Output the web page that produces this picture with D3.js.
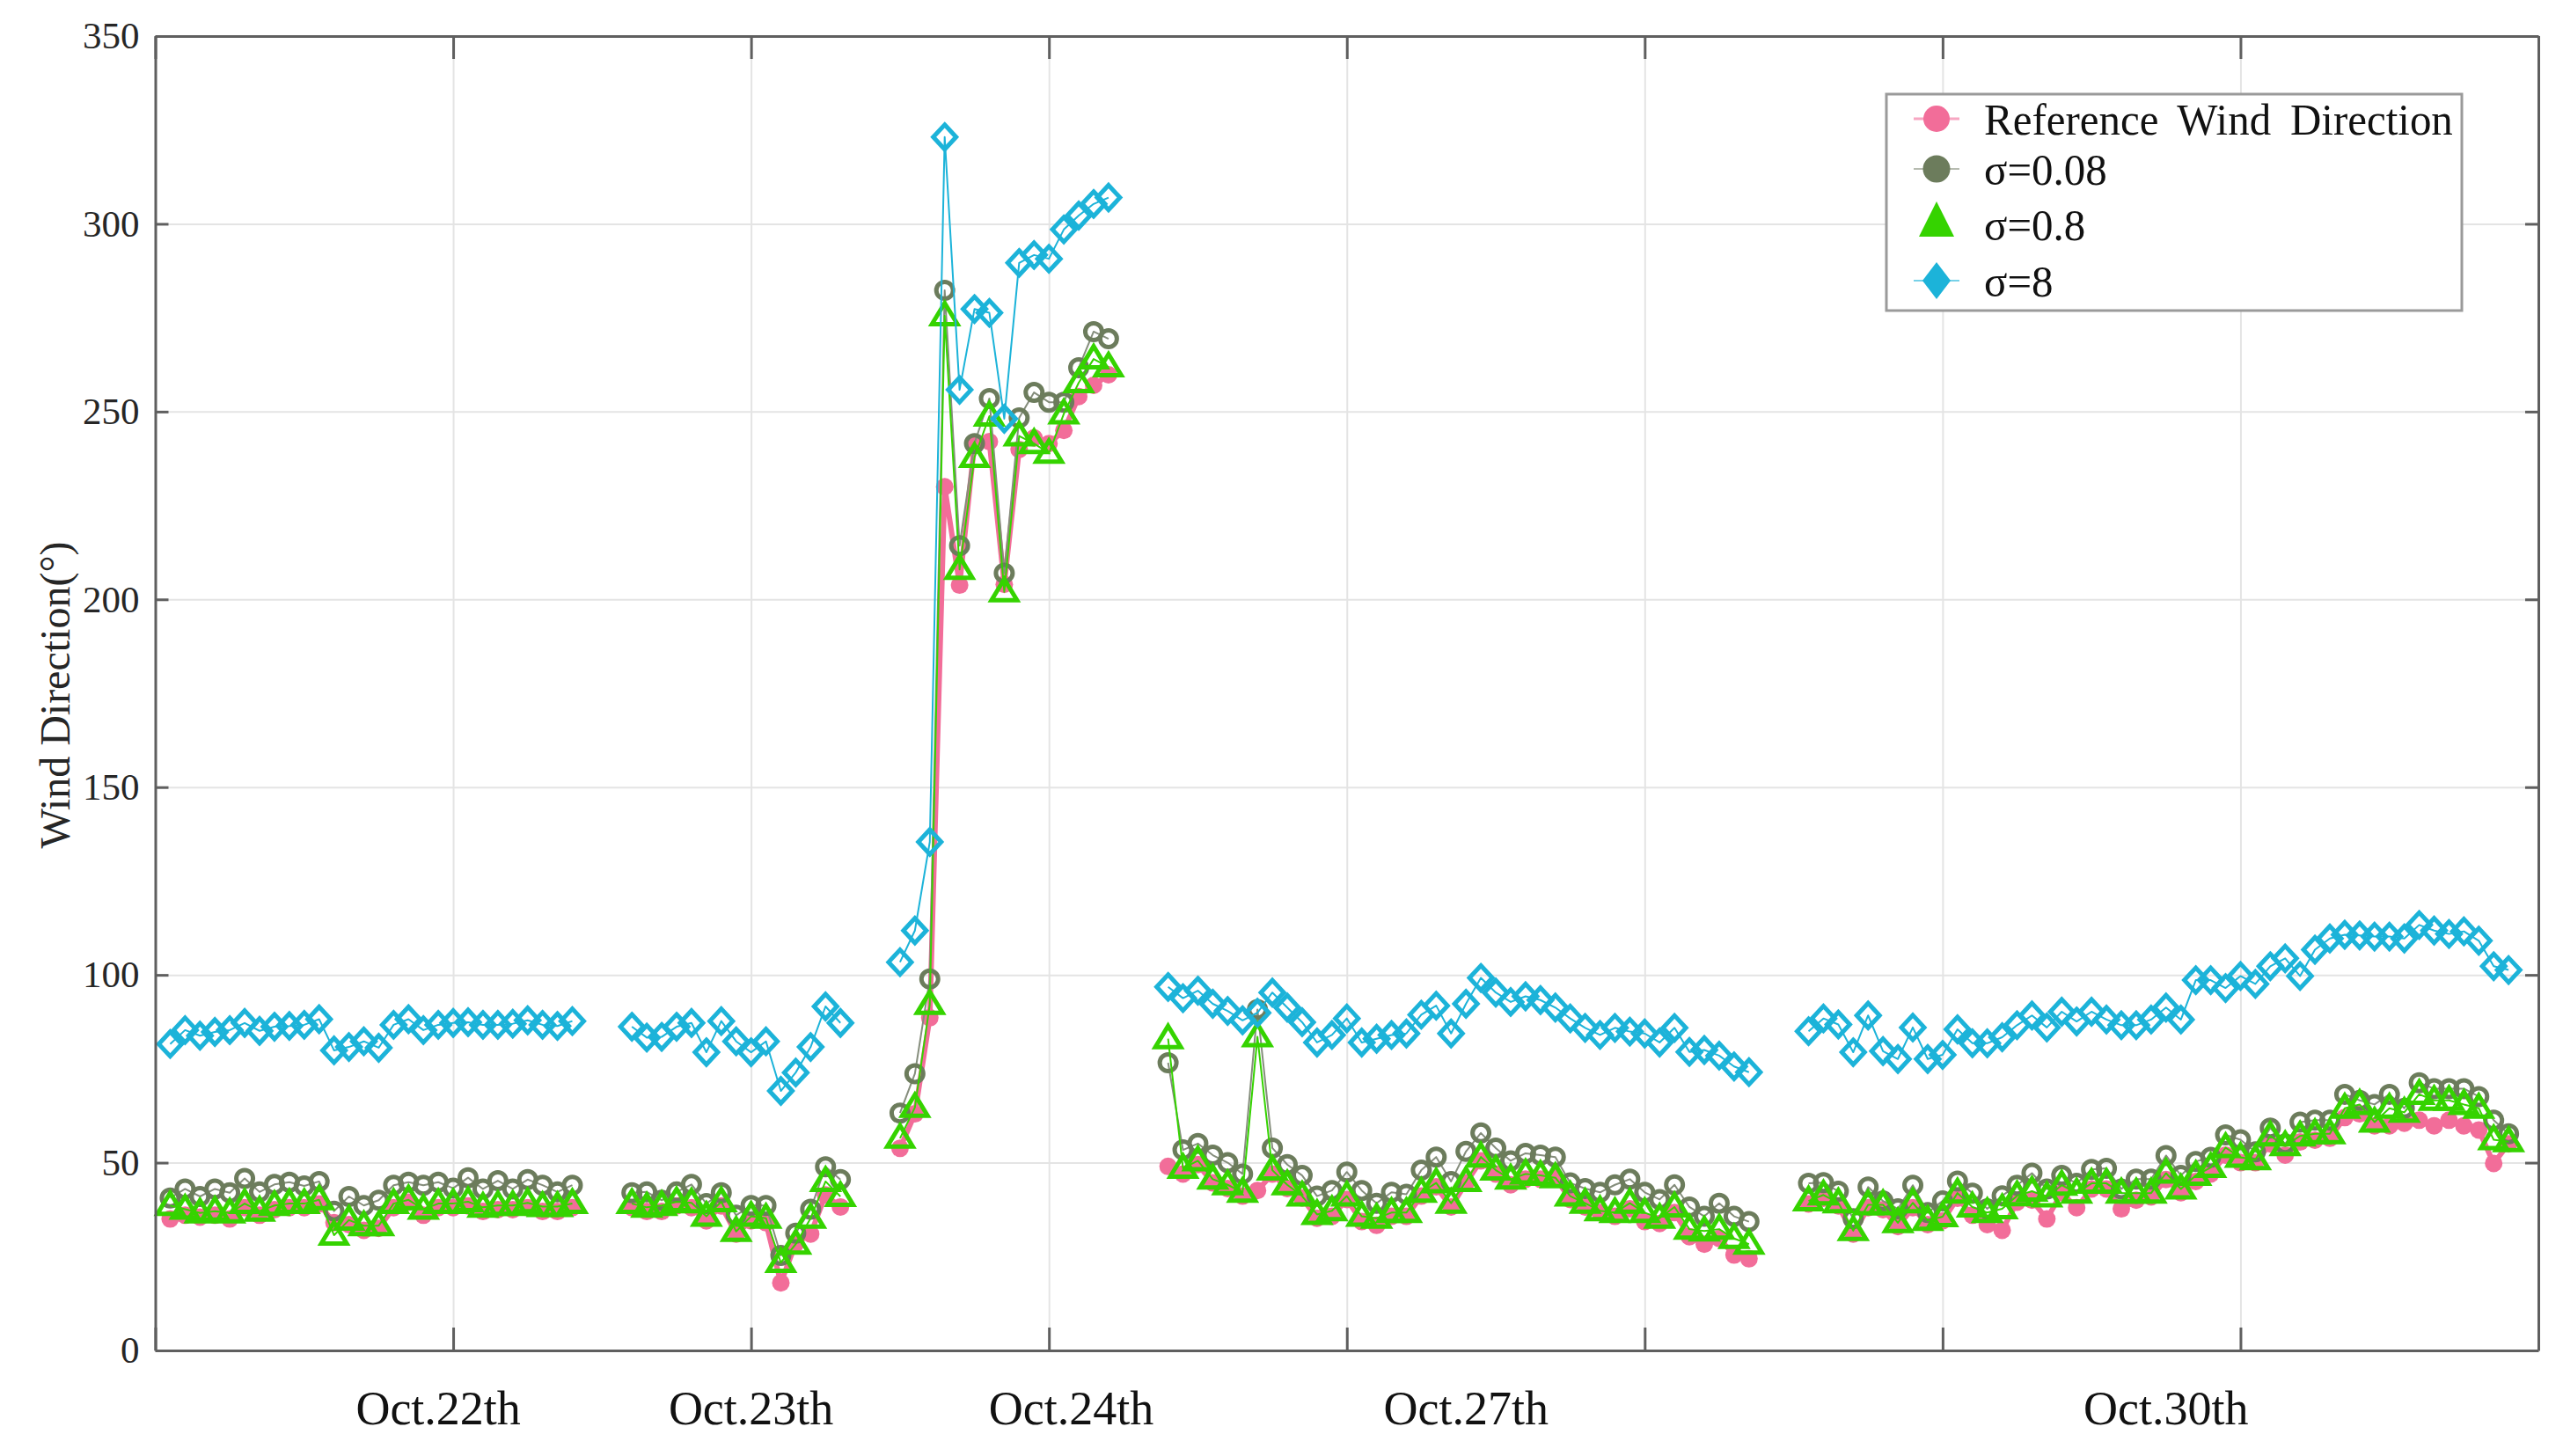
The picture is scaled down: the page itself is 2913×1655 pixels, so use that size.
<!DOCTYPE html>
<html>
<head>
<meta charset="utf-8">
<script src="https://cdn.jsdelivr.net/npm/d3@7/dist/d3.min.js"></script>
<style>
  html, body { margin: 0; padding: 0; background: #fff; }
  svg { display: block; font-family: "Liberation Serif", "Times New Roman", serif; }
</style>
</head>
<body>
<svg id="chart" width="2913" height="1655"></svg>
<script>
// hourly samples, split into the days that were measured
var segStart = [1, 32, 50, 68, 111];
var segLength = [28, 15, 15, 40, 48];

var dayLabels = ['Oct.22th', 'Oct.23th', 'Oct.24th', 'Oct.27th', 'Oct.30th'];
var dayLabelPos = [19, 40, 61.5, 88, 135];

var xTicks = [0, 20, 40, 60, 80, 100, 120, 140, 160];
var yTicks = [0, 50, 100, 150, 200, 250, 300, 350];

var refDir = [
    35, 36, 35.5, 36, 35, 38, 36, 37.5, 38, 38, 39, 34, 33.5, 32, 32.5, 38, 39.5, 36, 38, 38, 38.5, 37, 37.5, 37.5, 38, 37, 37, 38,
    38, 37, 37, 38.5, 38, 34.5, 38.5, 31, 34.5, 34, 18, 28.5, 31, 41.4, 38.2,
    53.8, 63, 88.6, 230, 203.8, 241.5, 242, 204, 239.9, 243, 241.5, 245, 254, 257, 259.8,
    49, 47, 49.5, 44.6, 43.1, 41.1, 42.6, 47, 43.1, 40.6, 35.2, 35.7, 40.2, 34.3, 33.3, 35.7, 35.7, 41.1, 43.6, 38.2,
    44.6, 50.5, 47, 44.1, 45.6, 45.6, 46, 40.2, 38.2, 36.7, 35.7, 37.7, 34.3, 33.8, 36.7, 30.3, 28.3, 29.8, 25.4, 24.4,
    39, 40.5, 38.5, 31, 38, 37.5, 33, 38, 33.5, 34.5, 40.5, 36, 33.5, 32, 39.5, 40, 35, 42, 38, 43, 43, 37.7, 40, 40.9,
    45.5, 42, 45, 47, 52, 50, 50, 55, 52, 55.5, 56, 56.5, 62, 63, 59.8, 59.8, 60.5, 61.3, 59.8, 61.3, 59.8, 58.7, 49.8, 55
];

var sigma008 = [
    40.6, 43, 41, 43, 42, 45.8, 42.2, 44.2, 44.8, 43.8, 45, 37.1, 41, 38.6, 40, 44, 44.8, 44, 44.8, 43.2, 46, 43, 45.2, 43, 45.5, 44, 42.2, 44,
    42, 42.2, 40, 42.2, 44.2, 39.1, 42, 36, 38.6, 38.6, 25.3, 31.2, 37.6, 48.9, 45.5,
    63.2, 73.7, 98.9, 282.3, 214.3, 241.5, 253.5, 207, 248.3, 255.1, 252.5, 252.5, 261.7, 271.3, 269.4,
    76.6, 53.4, 55.1, 52, 50, 47, 90.8, 53.9, 49.5, 46.6, 41.1, 42.6, 47.5, 42.6, 39.2, 42.1, 41.6, 48, 51.5, 45,
    53, 57.9, 53.9, 50.5, 52.5, 52, 51.5, 44.6, 43.1, 42.1, 44.1, 45.6, 42.1, 40.2, 44.1, 38.2, 35.7, 39.2, 35.7, 34.3,
    44.5, 44.7, 42.4, 35.1, 43.5, 39.8, 37.7, 44, 36.7, 39.8, 45.1, 41.9, 37.7, 41.2, 44, 47.2, 43, 46.6, 44.5, 48.2, 48.5, 43, 45.6, 45.6,
    51.9, 46.6, 50.3, 51.4, 57.4, 56.1, 52.9, 59.2, 55, 60.8, 61.3, 61.3, 68.2, 66.6, 65.5, 68.2, 64.5, 71.3, 69.7, 69.7, 69.7, 67.6, 61.3, 57.7
];

var sigma08 = [
    38.6, 37.6, 36.6, 37.1, 36.6, 39.1, 37.1, 38.6, 39.1, 39.1, 40.1, 30.7, 34.7, 33.2, 33.2, 39.1, 40.1, 37.6, 39.1, 39.1, 39.6, 38.1, 38.6, 38.6, 39.3, 38.3, 38.3, 39.1,
    39.1, 38.1, 38.6, 39.6, 39.3, 35.7, 39.6, 31.7, 35.7, 35.2, 23.4, 28.3, 35.2, 45, 41,
    56.5, 64.7, 92.1, 275.5, 208, 237.8, 248.8, 202, 243.5, 241.5, 238.9, 249.4, 257.7, 264, 261.9,
    83, 48.5, 50.5, 45.6, 44.1, 42.1, 83.5, 48, 44.1, 41.1, 36.2, 37.2, 41.1, 35.7, 35.2, 36.7, 36.7, 42.1, 44.6, 39.2,
    45, 51.5, 48, 45.6, 47, 46.6, 46, 41.1, 39.2, 37.2, 36.7, 39.2, 36.7, 35.2, 38.2, 32.3, 31.8, 32.3, 29.8, 28.3,
    39.8, 41.4, 39.3, 31.9, 38.8, 38.8, 34, 39.3, 34.6, 35.6, 41.9, 38.2, 36.7, 37.7, 41.2, 42.4, 40.9, 44, 41.9, 44.5, 44.5, 41.9, 41.9, 41.9,
    47.2, 43, 46.6, 48.7, 54, 51.4, 50.8, 57.1, 54.5, 57.1, 57.7, 57.7, 64.5, 65.5, 60.8, 64.5, 63.4, 68.2, 66.6, 66.6, 65.5, 64.5, 56.1, 55.6
];

var sigma8 = [
    81.6, 85.3, 83.8, 84.8, 85.3, 87.2, 85.1, 86.2, 86.4, 86.7, 88.2, 79.9, 80.8, 82.3, 80.6, 86.7, 88.2, 85.3, 86.7, 87.2, 87.4, 86.7, 86.7, 87, 87.9, 86.7, 86.4, 87.7,
    86.2, 83.3, 83.5, 86.2, 87.2, 79.4, 87.7, 82.3, 79.4, 82.3, 69.1, 74, 80.8, 91.6, 87.2,
    103.4, 111.8, 135.4, 323.1, 255.8, 277.3, 276.3, 248.1, 289.6, 291.7, 290.7, 298.5, 302.2, 305.3, 307,
    96.8, 93.8, 95.8, 92.3, 90.4, 87.9, 89.9, 95.3, 91.3, 87.4, 82, 84, 88.4, 82, 83, 84, 84.4, 89.4, 91.8, 84.4,
    92.3, 99.2, 95.3, 92.8, 94.3, 93.3, 91.3, 88.4, 85.9, 84, 85.9, 84.9, 84.4, 82, 85.9, 79.5, 80, 78.5, 75.6, 74.1,
    85, 88.4, 86.8, 79.4, 89.2, 79.7, 77.6, 86, 77.6, 78.7, 85.5, 81.8, 81.8, 83.4, 86.6, 89.2, 86, 90.2, 87.6, 90.2, 88.1, 86.6, 86.6, 88.1,
    91.3, 88.1, 98.6, 98.6, 96.5, 99.7, 97.6, 102.3, 104.4, 99.7, 106.7, 109.7, 110.7, 110.5, 110.2, 110.2, 109.7, 113.3, 111.8, 110.9, 111.6, 109.1, 102.3, 101.3
];

var seriesNames = ['Reference Wind Direction', '\u03c3=0.08', '\u03c3=0.8', '\u03c3=8'];

// marker paths (centered on 0,0)
function circlePath(r) {
    return 'M' + (-r) + ',0A' + r + ',' + r + ' 0 1,0 ' + r + ',0A' + r + ',' + r + ' 0 1,0 ' + (-r) + ',0Z';
}
function trianglePath(w, top, bottom) {
    return 'M0,' + (-top) + 'L' + w + ',' + bottom + 'L' + (-w) + ',' + bottom + 'Z';
}
function diamondPath(w, h) {
    return 'M0,' + (-h) + 'L' + w + ',0L0,' + h + 'L' + (-w) + ',0Z';
}

var series = [
    { name: seriesNames[0], values: refDir, color: '#f26d99', lineColor: '#f26d99', lineWidth: 6,
      marker: circlePath(10), fill: '#f26d99', stroke: 'none', legendMarker: circlePath(15), legendLine: 3 },
    { name: seriesNames[1], values: sigma008, color: '#6c7c5c', lineColor: '#858d7c', lineWidth: 2,
      marker: circlePath(9.5), fill: 'none', stroke: '#6c7c5c', legendMarker: circlePath(15.5), legendLine: 2 },
    { name: seriesNames[2], values: sigma08, color: '#35d300', lineColor: '#35d300', lineWidth: 2,
      marker: trianglePath(14.5, 14.5, 9.5), fill: 'none', stroke: '#35d300', legendMarker: trianglePath(20, 26, 14), legendLine: 0 },
    { name: seriesNames[3], values: sigma8, color: '#1cb3d9', lineColor: '#1cb3d9', lineWidth: 2,
      marker: diamondPath(13, 14), fill: 'none', stroke: '#1cb3d9', legendMarker: diamondPath(16, 21), legendLine: 2 }
];

var svg = d3.select('#chart');
var W = 2913, H = 1655;
var margin = { top: 41, right: 28, bottom: 120, left: 176.5 };
var width = W - margin.left - margin.right,
    height = H - margin.top - margin.bottom;

svg.append('rect').attr('width', W).attr('height', H).attr('fill', '#fff');

var x = d3.scaleLinear().domain([0, 160]).range([0, width]);
var y = d3.scaleLinear().domain([0, 350]).range([height, 0]);

var g = svg.append('g').attr('transform', 'translate(' + margin.left + ',' + margin.top + ')');

// grid
g.append('g').attr('class', 'grid-y')
    .call(d3.axisLeft(y).tickValues(yTicks).tickSize(-width).tickFormat(''))
    .call(function(a) { a.select('.domain').remove(); })
    .selectAll('line').attr('stroke', '#e4e4e4').attr('stroke-width', 2);

g.append('g').attr('class', 'grid-x')
    .attr('transform', 'translate(0,' + height + ')')
    .call(d3.axisBottom(x).tickValues(xTicks).tickSize(-height).tickFormat(''))
    .call(function(a) { a.select('.domain').remove(); })
    .selectAll('line').attr('stroke', '#e4e4e4').attr('stroke-width', 2);

// data
var line = d3.line()
    .x(function(d) { return x(d.x); })
    .y(function(d) { return y(d.v); });

series.forEach(function(s, si) {
    var sg = g.append('g').attr('class', 'series-' + si);
    var offset = 0;
    for (var k = 0; k < segStart.length; ++k) {
        var pts = d3.range(segLength[k]).map(function(j) {
            return { x: segStart[k] + j, v: s.values[offset + j] };
        });
        offset += segLength[k];

        sg.append('path')
            .datum(pts)
            .attr('d', line)
            .attr('fill', 'none')
            .attr('stroke', s.lineColor)
            .attr('stroke-width', s.lineWidth)
            .attr('stroke-linejoin', 'round');

        sg.selectAll('.mk-' + k)
            .data(pts)
            .enter()
            .append('path')
            .attr('class', 'mk-' + k)
            .attr('d', s.marker)
            .attr('transform', function(d) { return 'translate(' + x(d.x) + ',' + y(d.v) + ')'; })
            .attr('fill', s.fill)
            .attr('stroke', s.stroke)
            .attr('stroke-width', 5);
    }
});

// axes box with inward ticks
var axisColor = '#5f5f5f';

var yLeft = g.append('g')
    .call(d3.axisLeft(y).tickValues(yTicks).tickSizeInner(-15).tickSizeOuter(0).tickPadding(18));
var yRight = g.append('g').attr('transform', 'translate(' + width + ',0)')
    .call(d3.axisRight(y).tickValues(yTicks).tickSizeInner(-15).tickSizeOuter(0).tickFormat(''));
var xBottom = g.append('g').attr('transform', 'translate(0,' + height + ')')
    .call(d3.axisBottom(x).tickValues(xTicks).tickSizeInner(-26).tickSizeOuter(0).tickFormat(''));
var xTop = g.append('g')
    .call(d3.axisTop(x).tickValues(xTicks).tickSizeInner(-26).tickSizeOuter(0).tickFormat(''));

[yLeft, yRight, xBottom, xTop].forEach(function(a) {
    a.select('.domain').attr('stroke', axisColor).attr('stroke-width', 3);
    a.selectAll('line').attr('stroke', axisColor).attr('stroke-width', 3);
});

yLeft.selectAll('text')
    .attr('font-size', '43px')
    .attr('font-family', '"Liberation Serif", serif')
    .attr('fill', '#262626');

// day labels under the axis
g.selectAll('.day-label')
    .data(dayLabels)
    .enter()
    .append('text')
    .attr('class', 'day-label')
    .attr('x', function(d, i) { return x(dayLabelPos[i]); })
    .attr('y', height + 84)
    .attr('text-anchor', 'middle')
    .attr('font-size', '54px')
    .attr('fill', '#111')
    .text(function(d) { return d; });

// y label
svg.append('text')
    .attr('transform', 'translate(62,790) rotate(-90)')
    .attr('text-anchor', 'middle')
    .attr('dominant-baseline', 'central')
    .attr('font-size', '48px')
    .attr('fill', '#262626')
    .text('Wind Direction(\u00b0)');

// legend
var legend = svg.append('g').attr('transform', 'translate(2144,107)');
legend.append('rect')
    .attr('width', 654).attr('height', 246)
    .attr('fill', '#fff')
    .attr('stroke', '#9a9a9a')
    .attr('stroke-width', 3);

var rowY = [28, 85, 148, 212];
series.forEach(function(s, i) {
    var row = legend.append('g').attr('transform', 'translate(0,' + rowY[i] + ')');
    if (s.legendLine > 0) {
        row.append('line')
            .attr('x1', 31).attr('x2', 83)
            .attr('stroke', s.lineColor)
            .attr('stroke-opacity', 0.6)
            .attr('stroke-width', s.legendLine);
    }
    row.append('path')
        .attr('d', s.legendMarker)
        .attr('transform', 'translate(57,0)')
        .attr('fill', s.color);
    row.append('text')
        .attr('transform', 'translate(111,0) scale(0.96,1)')
        .attr('dy', '0.35em')
        .attr('font-size', '51px')
        .attr('fill', '#111')
        .style('word-spacing', '10px')
        .text(s.name);
});
</script>
</body>
</html>
